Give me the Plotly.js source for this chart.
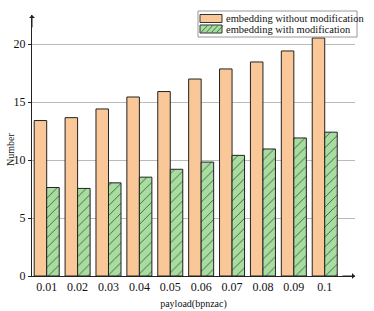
<!DOCTYPE html>
<html>
<head>
<meta charset="utf-8">
<script src="https://cdn.plot.ly/plotly-3.0.1.min.js"></script>
<style>html,body{margin:0;padding:0;background:#fff;}#chart{width:374px;height:311px;}</style>
</head>
<body>
<div id="chart"></div>
<script>
var categories = ["0.01","0.02","0.03","0.04","0.05","0.06","0.07","0.08","0.09","0.1"];
var withoutMod = [13.4, 13.65, 14.4, 15.43, 15.9, 16.98, 17.85, 18.45, 19.4, 20.52];
var withMod = [7.63, 7.55, 8.03, 8.52, 9.2, 9.82, 10.4, 10.95, 11.9, 12.4];
var seriesNames = ["embedding without modification", "embedding with modification"];
var yTicks = [0, 5, 10, 15, 20];
var xTitle = "payload(bpnzac)", yTitle = "Number";

var font = "'Liberation Serif', 'Times New Roman', serif";
var orange = "#FAC898", green = "#A8DCA0", hatch = "#2f5a2f";
var W = 374, H = 311, L = 32, R = 19, T = 15, B = 35;
var pw = W - L - R, ph = H - T - B;
function px(x){ return (x - L) / pw; }
function py(y){ return (H - B - y) / ph; }

var traces = [
  {type:"bar", x:categories, y:withoutMod, name:seriesNames[0],
   marker:{color:orange, line:{color:"#222", width:1}}},
  {type:"bar", x:categories, y:withMod, name:seriesNames[1],
   marker:{color:green, line:{color:"#222", width:1},
     pattern:{shape:"/", fgcolor:hatch, bgcolor:green, size:7, solidity:0.12}}}
];

// custom legend (compact, as in the reference)
var shapes = [
  {type:"rect", xref:"paper", yref:"paper", x0:px(198), x1:px(357), y0:py(37), y1:py(11),
   fillcolor:"#fff", line:{color:"#999", width:1}, layer:"above"},
  {type:"rect", xref:"paper", yref:"paper", x0:px(200), x1:px(222), y0:py(22.5), y1:py(14.5),
   fillcolor:orange, line:{color:"#333", width:1}, layer:"above"},
  {type:"rect", xref:"paper", yref:"paper", x0:px(200), x1:px(222), y0:py(33), y1:py(25),
   fillcolor:green, line:{color:"#333", width:1}, layer:"above"}
];
for (var i = 0; i < 4; i++) {
  var xs = 201 + i * 5.2;
  shapes.push({type:"line", xref:"paper", yref:"paper", x0:px(xs), y0:py(32.5), x1:px(xs + 6.5), y1:py(25.5),
    line:{color:hatch, width:0.8}, layer:"above"});
}
var annotations = [
  {xref:"paper", yref:"paper", x:0, y:1, ax:0, ay:14,
   showarrow:true, arrowhead:1, arrowsize:1, arrowwidth:1, arrowcolor:"#222", text:""},
  {xref:"paper", yref:"paper", x:1.0, y:0, ax:-14, ay:0,
   showarrow:true, arrowhead:1, arrowsize:1, arrowwidth:1, arrowcolor:"#222", text:""},
  {xref:"paper", yref:"paper", x:px(224), y:py(18.5), xanchor:"left", yanchor:"middle",
   showarrow:false, text:seriesNames[0], font:{family:font, size:10.5, color:"#111"}},
  {xref:"paper", yref:"paper", x:px(224), y:py(29.2), xanchor:"left", yanchor:"middle",
   showarrow:false, text:seriesNames[1], font:{family:font, size:10.5, color:"#111"}},
  {xref:"paper", yref:"paper", x:px(11), y:py(150), xanchor:"center", yanchor:"middle",
   showarrow:false, textangle:-90, text:yTitle, font:{family:font, size:10, color:"#111"}}
];

var layout = {
  width:W, height:H,
  margin:{l:L, r:R, t:T, b:B},
  paper_bgcolor:"#fff", plot_bgcolor:"#fff",
  font:{family:font, size:12, color:"#111"},
  barmode:"group", bargap:0.19, bargroupgap:0,
  showlegend:false,
  xaxis:{type:"category", range:[-0.476, 9.98], showline:true, linecolor:"#222", linewidth:1,
    ticks:"", tickfont:{family:font, size:12}, showgrid:false, zeroline:false,
    title:{text:xTitle, font:{family:font, size:10}, standoff:6}},
  yaxis:{range:[0, 22.5], tickvals:yTicks, ticktext:yTicks.map(String), showline:true, linecolor:"#222", linewidth:1,
    ticks:"outside", ticklen:3, tickcolor:"#222", tickfont:{family:font, size:12}, showgrid:true, gridcolor:"#bbb", gridwidth:1, zeroline:false},
  shapes:shapes,
  annotations:annotations
};
Plotly.newPlot("chart", traces, layout, {displayModeBar:false, staticPlot:true});
</script>
</body>
</html>
